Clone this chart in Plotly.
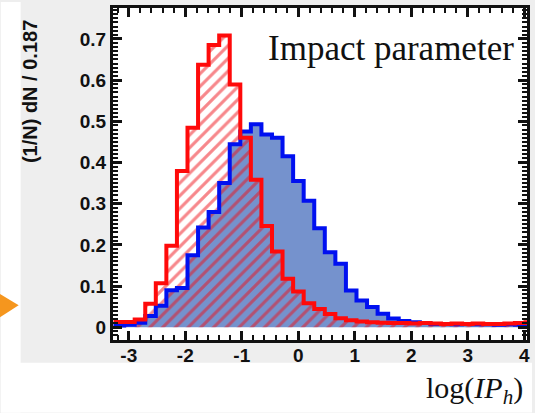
import plotly.graph_objects as go

# Histogram binning: 40 bins of width 0.187
bin_start = -3.27
bin_width = 0.187
n_bins = 40

# Signal-like sample (blue, solid fill): normalised entries per bin
blue_vals = [0.004, 0.006, 0.011, 0.027, 0.052, 0.090, 0.095, 0.175, 0.242, 0.280,
             0.350, 0.444, 0.475, 0.493, 0.468, 0.460, 0.415, 0.355, 0.307, 0.240,
             0.182, 0.154, 0.089, 0.065, 0.049, 0.033, 0.021, 0.015, 0.012, 0.010,
             0.008, 0.008, 0.007, 0.008, 0.007, 0.007, 0.006, 0.007, 0.006, 0.006]

# Background-like sample (red, hatched): normalised entries per bin
red_vals = [0.013, 0.013, 0.019, 0.057, 0.107, 0.198, 0.379, 0.484, 0.637, 0.685,
            0.708, 0.589, 0.460, 0.358, 0.246, 0.184, 0.118, 0.087, 0.058, 0.044,
            0.032, 0.022, 0.017, 0.014, 0.012, 0.011, 0.010, 0.010, 0.009, 0.010,
            0.009, 0.008, 0.009, 0.008, 0.009, 0.008, 0.008, 0.009, 0.010, 0.012]

x_ticks = [-3, -2, -1, 0, 1, 2, 3, 4]
y_ticks = [0, 0.1, 0.2, 0.3, 0.4, 0.5, 0.6, 0.7]

edges = [bin_start + i * bin_width for i in range(n_bins + 1)]

def step(vals):
    return edges, list(vals) + [vals[-1]]

W, H = 535, 413
L, R, T, B = 113, 5, 6, 73
pw, ph = W - L - R, H - T - B

def px(xp):
    return (xp - L) / pw

def py(yp):
    return (H - B - yp) / ph

fig = go.Figure()

bx, by = step(blue_vals)
rx, ry = step(red_vals)

# blue filled area
fig.add_trace(go.Scatter(x=bx, y=by, mode="lines", line_shape="hv",
                         line=dict(width=0, color="rgba(0,0,0,0)"),
                         fill="tozeroy", fillcolor="#7592cd", hoverinfo="skip",
                         showlegend=False))
# red hatched area
fig.add_trace(go.Scatter(x=rx, y=ry, mode="lines", line_shape="hv",
                         line=dict(width=0, color="rgba(0,0,0,0)"),
                         fill="tozeroy", fillcolor="rgba(0,0,0,0)",
                         fillpattern=dict(shape="/", fgcolor="#f01018",
                                          bgcolor="rgba(0,0,0,0)", size=9,
                                          solidity=0.35),
                         hoverinfo="skip", showlegend=False))
# outlines
fig.add_trace(go.Scatter(x=bx, y=by, mode="lines", line_shape="hv",
                         line=dict(width=4, color="#0010f0"),
                         hoverinfo="skip", showlegend=False))
fig.add_trace(go.Scatter(x=rx, y=ry, mode="lines", line_shape="hv",
                         line=dict(width=4, color="#ff0a0a"),
                         hoverinfo="skip", showlegend=False))

tick_font = dict(family="Liberation Sans", size=19, color="#111111", weight="bold")

axis_common = dict(showline=True, linewidth=3, linecolor="#111111", mirror="allticks",
                   ticks="inside", ticklen=9, tickwidth=2.5, tickcolor="#111111",
                   showgrid=False, zeroline=False, tickfont=tick_font)

fig.update_xaxes(range=[-3.28, 4.05], tickvals=x_ticks,
                 ticktext=[str(v) for v in x_ticks], ticklabelstandoff=-4,
                 minor=dict(dtick=0.2, tick0=0, ticks="inside", ticklen=5,
                            tickwidth=1.5, tickcolor="#111111"),
                 **axis_common)
fig.update_yaxes(range=[-0.031, 0.775], tickvals=y_ticks,
                 ticktext=["0"] + [f"{v:.1f}" for v in y_ticks[1:]],
                 minor=dict(dtick=0.01, tick0=0, ticks="inside", ticklen=5,
                            tickwidth=1.5, tickcolor="#111111"),
                 **axis_common)

shapes = [
    # white strip to the left of the grey panel
    dict(type="rect", xref="paper", yref="paper", x0=px(0), x1=px(20), y0=py(0), y1=py(H),
         fillcolor="white", line=dict(width=0), layer="below"),
    # white band under the grey panel
    dict(type="rect", xref="paper", yref="paper", x0=px(0), x1=px(W), y0=py(363), y1=py(H),
         fillcolor="white", line=dict(width=0), layer="below"),
    # orange arrow head at the left edge
    dict(type="path", xref="paper", yref="paper",
         path=f"M {px(-2)},{py(293)} L {px(18)},{py(305)} L {px(-2)},{py(318)} Z",
         fillcolor="#f5961e", line=dict(width=0), layer="above"),
]

annotations = [
    dict(text="(1/N) dN / 0.187", xref="paper", yref="paper", x=px(30), y=py(90),
         textangle=-90, showarrow=False, xanchor="center", yanchor="middle",
         font=dict(family="Liberation Sans", size=20, color="#111111", weight="bold")),
    dict(text="Impact parameter", xref="paper", yref="paper", x=px(519), y=py(47),
         showarrow=False, xanchor="right", yanchor="middle",
         font=dict(family="Liberation Serif", size=35, color="#111111")),
    dict(text="log(<i>IP</i><sub><i>h</i></sub>)", xref="paper", yref="paper",
         x=px(528), y=py(390), showarrow=False, xanchor="right", yanchor="middle",
         font=dict(family="Liberation Serif", size=30, color="#111111")),
]

fig.update_layout(width=W, height=H, margin=dict(l=L, r=R, t=T, b=B),
                  paper_bgcolor="#eeeeee", plot_bgcolor="white",
                  shapes=shapes, annotations=annotations, showlegend=False)

fig.write_html("out.html")
